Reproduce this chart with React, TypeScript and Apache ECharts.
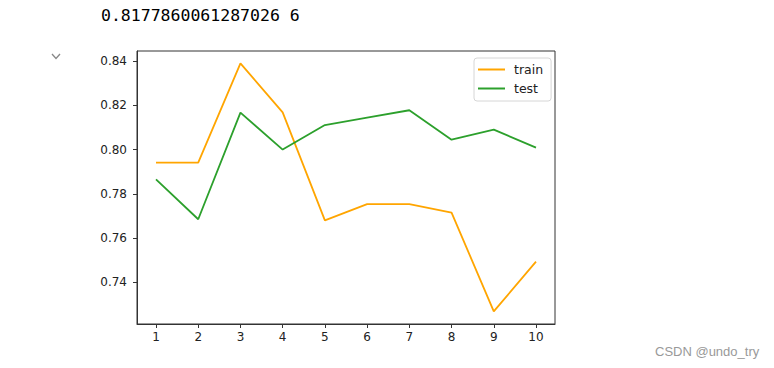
import React, { useEffect, useRef } from "react";
import * as echarts from "echarts";

const xValues = [1, 2, 3, 4, 5, 6, 7, 8, 9, 10];
const trainScores = [0.7941, 0.7941, 0.839, 0.8168, 0.768, 0.7753, 0.7753, 0.7715, 0.7268, 0.7493];
const testScores = [0.7865, 0.7685, 0.8167, 0.8, 0.8111, 0.8145, 0.8178, 0.8045, 0.809, 0.8009];
const yTicks = [0.74, 0.76, 0.78, 0.8, 0.82, 0.84];
const seriesNames = ["train", "test"];
const headerText = "0.8177860061287026 6";
const watermark = "CSDN @undo_try";

export default function App() {
  const ref = useRef<HTMLDivElement>(null);
  useEffect(() => {
    if (!ref.current) return;
    const chart = echarts.init(ref.current, undefined, { renderer: "svg" });
    const font = "DejaVu Sans";
    chart.setOption({
      animation: false,
      backgroundColor: "#ffffff",
      grid: {
        left: 137,
        right: 219,
        top: 51,
        bottom: 44,
        show: true,
        borderColor: "#333",
        borderWidth: 1,
        backgroundColor: "transparent",
      },
      legend: {
        orient: "vertical",
        left: 474,
        top: 58,
        padding: [5, 8, 6, 4],
        itemGap: 6,
        itemWidth: 27,
        itemHeight: 2,
        icon: "rect",
        borderColor: "#d6d6d6",
        borderWidth: 1,
        borderRadius: 3,
        textStyle: { fontFamily: font, fontSize: 12.5, color: "#222", padding: [0, 0, 0, 4] },
        data: seriesNames,
      },
      xAxis: {
        type: "value",
        min: 0.55,
        max: 10.45,
        axisLine: { show: true, lineStyle: { color: "#333", width: 1 } },
        axisTick: { show: true, length: 4, customValues: xValues, lineStyle: { color: "#333" } },
        axisLabel: {
          customValues: xValues,
          margin: 7,
          fontFamily: font,
          fontSize: 12,
          color: "#222",
        },
        splitLine: { show: false },
      },
      yAxis: {
        type: "value",
        min: 0.7211,
        max: 0.8446,
        axisLine: { show: true, lineStyle: { color: "#333", width: 1 } },
        axisTick: { show: true, length: 4, customValues: yTicks, lineStyle: { color: "#333" } },
        axisLabel: {
          customValues: yTicks,
          margin: 10,
          fontFamily: font,
          fontSize: 12,
          color: "#222",
          formatter: (v: number) => v.toFixed(2),
        },
        splitLine: { show: false },
      },
      series: [
        {
          name: seriesNames[0],
          type: "line",
          data: xValues.map((x, i) => [x, trainScores[i]]),
          showSymbol: false,
          symbol: "none",
          color: "#ffa500",
          lineStyle: { color: "#ffa500", width: 1.8 },
        },
        {
          name: seriesNames[1],
          type: "line",
          data: xValues.map((x, i) => [x, testScores[i]]),
          showSymbol: false,
          symbol: "none",
          color: "#2ca02c",
          lineStyle: { color: "#2ca02c", width: 1.8 },
        },
      ],
      graphic: [
        {
          type: "text",
          left: 101,
          top: 7,
          style: {
            text: headerText,
            fontFamily: "DejaVu Sans Mono",
            fontSize: 16.5,
            fill: "#000",
          },
        },
        {
          type: "polyline",
          shape: { points: [[52, 54], [56, 58.5], [60, 54]] },
          style: { stroke: "#888", lineWidth: 1.3, fill: "none" },
        },
        {
          type: "text",
          left: 655,
          top: 345,
          style: {
            text: watermark,
            fontFamily: "Liberation Sans",
            fontSize: 13,
            fill: "#999",
          },
        },
      ],
    });
    return () => chart.dispose();
  }, []);
  return (
    <div
      ref={ref}
      style={{ position: "fixed", left: 0, top: 0, width: 774, height: 368, background: "#fff" }}
    />
  );
}
